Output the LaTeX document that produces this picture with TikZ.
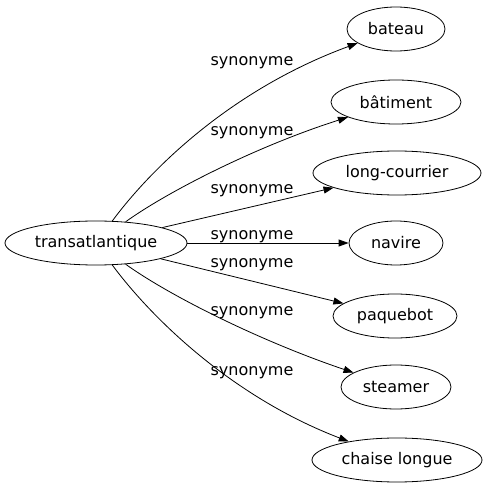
\documentclass[tikz,border=0pt]{standalone}
\usepackage{fontspec}
\setmainfont{DejaVu Sans}
\usetikzlibrary{arrows.meta,shapes.geometric}
\begin{document}
\begin{tikzpicture}[x=1pt,y=1pt,
  word/.style={draw, ellipse, line width=0.8pt, inner sep=0pt, minimum height=44pt, font=\fontsize{16}{18}\selectfont},
  rel/.style={line width=0.8pt, -{Triangle[length=10pt,width=7pt]}},
  lbl/.style={font=\fontsize{16}{18}\selectfont, inner sep=0pt}]
\useasboundingbox (0,0) rectangle (487,491);
\node[word, minimum width=182pt] (t) at (96,248) {transatlantique};
\node[word, minimum width=98pt] (bateau) at (396,462) {bateau};
\node[word, minimum width=130pt] (batiment) at (396,389) {bâtiment};
\node[word, minimum width=168pt] (long) at (397,318) {long-courrier};
\node[word, minimum width=94pt] (navire) at (396,248) {navire};
\node[word, minimum width=124pt] (paquebot) at (395,175) {paquebot};
\node[word, minimum width=110pt] (steamer) at (396,104) {steamer};
\node[word, minimum width=170pt] (chaise) at (397,31) {chaise longue};
\draw[rel] (t) .. controls (150,321) and (230,401) .. (bateau);
\draw[rel] (t) .. controls (170,301) and (260,346) .. (batiment);
\draw[rel] (t) -- (long);
\draw[rel] (t) -- (navire);
\draw[rel] (t) -- (paquebot);
\draw[rel] (t) .. controls (170,195) and (260,150) .. (steamer);
\draw[rel] (t) .. controls (150,175) and (230,95) .. (chaise);
\node[lbl] (l1) at (252,428) {synonyme};
\node[lbl] (l2) at (252,358) {synonyme};
\node[lbl] (l3) at (252,300) {synonyme};
\node[lbl] (l4) at (252,254) {synonyme};
\node[lbl] (l5) at (252,226) {synonyme};
\node[lbl] (l6) at (252,178) {synonyme};
\node[lbl] (l7) at (252,118) {synonyme};
\end{tikzpicture}
\end{document}
